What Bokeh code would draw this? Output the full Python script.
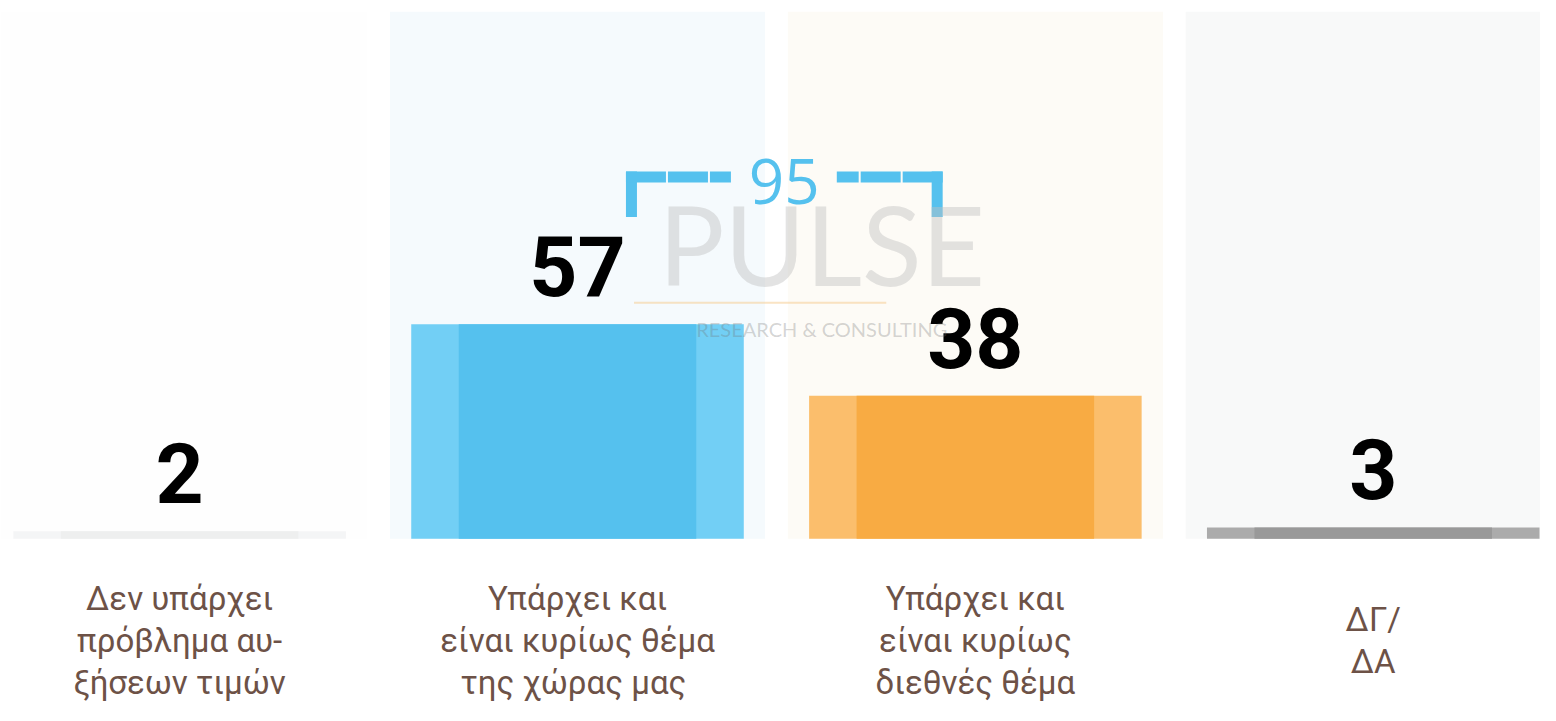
from bokeh.plotting import figure
from bokeh.models import Range1d, ColumnDataSource
from bokeh.core.properties import value
from bokeh.embed import file_html
from bokeh.resources import INLINE

# ---- data ----
categories = ["Δεν υπάρχει\nπρόβλημα αυ-\nξήσεων τιμών",
              "Υπάρχει και\nείναι κυρίως θέμα\nτης  χώρας μας",
              "Υπάρχει και\nείναι κυρίως\nδιεθνές θέμα",
              "ΔΓ/\nΔΑ"]
values = [2, 57, 38, 3]
bar_colors = ["#EEEFEF", "#55C1EE", "#F8AB43", "#999999"]
edge_colors = ["#F4F5F6", "#72CFF5", "#FBBE6C", "#ABABAB"]
panel_colors = ["#FEFEFE", "#F5FAFD", "#FDFBF6", "#F8F9F9"]
bracket_pair = [1, 2]

# ---- layout ----
W, H = 1540, 705
sx = W / 1556.0
sy = 0.975
px_x = 402.0 * sx            # pixels per category
c0 = 181.0 * sx              # canvas x of first category centre
px_y = 3.86 * sy             # pixels per percentage point
base = 552.0 * sy            # canvas y of the zero line

x_start = -c0 / px_x
y_top = base / px_y

p = figure(width=W, height=H, output_backend="svg", toolbar_location=None,
           x_range=Range1d(x_start, x_start + W / px_x),
           y_range=Range1d(y_top - H / px_y, y_top), min_border=0)
p.axis.visible = False
p.grid.visible = False
p.outline_line_color = None
p.background_fill_color = "white"
p.border_fill_color = "white"

label_gap = 58.0 / px_y
xs = list(range(len(values)))
src = ColumnDataSource(dict(x=xs, v=values, ly=[v + label_gap for v in values],
                            lab=[str(v) for v in values], cat=categories,
                            c=bar_colors, e=edge_colors, pc=panel_colors,
                            ptop=[140.0] * len(values)))

# background panels
p.vbar(x="x", top="ptop", bottom=0, width=379 / 402, fill_color="pc", line_color=None, source=src)
# bars: lighter full bar + darker core
p.vbar(x="x", top="v", bottom=0, width=336 / 402, fill_color="e", line_color=None, source=src)
p.vbar(x="x", top="v", bottom=0, width=240 / 402, fill_color="c", line_color=None, source=src)

# value labels
p.text(x="x", y="ly", text="lab", source=src, text_align="center", text_baseline="alphabetic",
       text_font=value("Roboto"), text_font_style="bold",
       text_font_size="84px", text_color="black")

# category labels
p.text(x="x", y=-27.0, text="cat", source=src, text_align="center", text_baseline="middle",
       text_font=value("Roboto"), text_font_size="33px", text_color="#6d5247",
       text_line_height=1.08)

# bracket with total
total = values[bracket_pair[0]] + values[bracket_pair[1]]
bl = bracket_pair[0] + 0.1356
br = bracket_pair[1] - 0.096
b_top = 96.1
b_bot = 85.5
blue = "#55C1EE"
lw = 11
half_w = (lw / 2) / px_x
half_h = (lw / 2) / px_y
p.segment(x0=[bl, br], y0=[b_bot, b_bot], x1=[bl, br], y1=[b_top + half_h, b_top + half_h],
          line_color=blue, line_width=lw, line_cap="butt")
p.segment(x0=[bl - half_w, br + half_w], y0=[b_top, b_top], x1=[1.3856, 1.6517], y1=[b_top, b_top],
          line_color=blue, line_width=lw, line_cap="butt", line_dash="40 2")
p.text(x=[(bl + br) / 2], y=[95.0], text=[str(total)], text_align="center",
       text_baseline="alphabetic", text_font=value("Open Sans"), text_font_size="62px",
       text_color=blue)

# watermark
p.text(x=[1.614], y=[78.5], text=["PULSE"], text_align="center", text_baseline="alphabetic",
       text_font=value("Lato"), text_font_size="110px", text_color="#c0c0c0", text_alpha=0.45)
p.segment(x0=[1.142], y0=[62.7], x1=[1.776], y1=[62.7], line_color="#F6C98A",
          line_width=2, line_alpha=0.5)
p.text(x=[1.614], y=[55.7], text=["RESEARCH & CONSULTING"], text_align="center",
       text_baseline="alphabetic", text_font=value("Lato"), text_font_size="20px",
       text_color="#707070", text_alpha=0.3)

open("out.html", "w").write(file_html(p, INLINE))
